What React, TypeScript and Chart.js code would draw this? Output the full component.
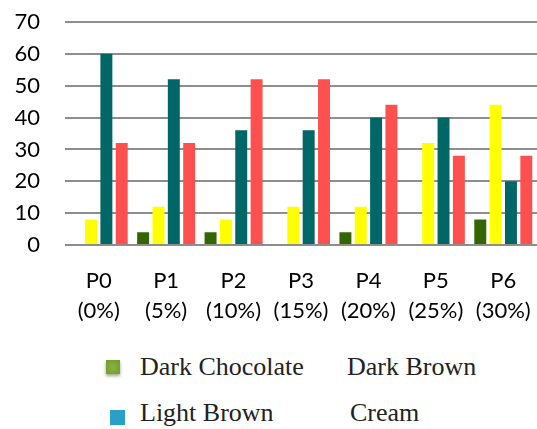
import React, { useEffect, useRef } from "react";
import { Chart, registerables } from "chart.js";

Chart.register(...registerables);

const categories: string[][] = [
  ["P0", "(0%)"],
  ["P1", "(5%)"],
  ["P2", "(10%)"],
  ["P3", "(15%)"],
  ["P4", "(20%)"],
  ["P5", "(25%)"],
  ["P6", "(30%)"],
];
const darkChocolate = [0, 4, 4, 0, 4, 0, 8];
const darkBrown = [8, 12, 8, 12, 12, 32, 44];
const lightBrown = [60, 52, 36, 36, 40, 40, 20];
const cream = [32, 32, 52, 52, 44, 28, 28];
const seriesNames = ["Dark Chocolate", "Dark Brown", "Light Brown", "Cream"];
const yMin = 0;
const yMax = 70;
const yStep = 10;

const tickFont = { family: "Lato, 'Open Sans', sans-serif", size: 22, lineHeight: 1.36 };

export default function App() {
  const canvasRef = useRef<HTMLCanvasElement | null>(null);

  useEffect(() => {
    if (!canvasRef.current) return;
    const chart = new Chart(canvasRef.current, {
      type: "bar",
      data: {
        labels: categories,
        datasets: [
          { label: seriesNames[0], data: darkChocolate, backgroundColor: "#336600" },
          { label: seriesNames[1], data: darkBrown, backgroundColor: "#ffff00" },
          { label: seriesNames[2], data: lightBrown, backgroundColor: "#006666" },
          { label: seriesNames[3], data: cream, backgroundColor: "#ff5050" },
        ],
      },
      options: {
        responsive: false,
        animation: false,
        events: [],
        datasets: {
          bar: { categoryPercentage: 0.91, barPercentage: 0.78 },
        },
        layout: { padding: { left: 15, right: 0, top: 22, bottom: 2 } },
        plugins: { legend: { display: false }, tooltip: { enabled: false } },
        scales: {
          x: {
            grid: { display: false, drawTicks: false },
            border: { display: false },
            ticks: { font: tickFont, color: "#000", padding: 21, maxRotation: 0, autoSkip: false },
            afterFit: (scale: any) => {
              scale.height = 83;
              scale.paddingLeft = 0;
              scale.paddingRight = 0;
            },
          },
          y: {
            min: yMin,
            max: yMax,
            grid: { color: "#8e8e8e", lineWidth: 2, drawTicks: false },
            border: { display: false },
            ticks: { stepSize: yStep, font: tickFont, color: "#000", padding: 25, autoSkip: false },
            afterFit: (scale: any) => {
              scale.width = 50;
              scale.paddingTop = 0;
              scale.paddingBottom = 0;
            },
          },
        },
      },
    });
    return () => chart.destroy();
  }, []);

  const legendText: React.CSSProperties = {
    position: "absolute",
    fontFamily: "'Liberation Serif', 'Times New Roman', serif",
    fontSize: 26,
    lineHeight: "26px",
    color: "#222",
    whiteSpace: "nowrap",
  };

  return (
    <div style={{ position: "fixed", left: 0, top: 0, width: 537, height: 429, background: "#fff", overflow: "hidden" }}>
      <canvas ref={canvasRef} width={537} height={330} style={{ position: "absolute", left: 0, top: 0 }} />
      <div
        style={{
          position: "absolute",
          left: 106,
          top: 360,
          width: 14,
          height: 14,
          background: "radial-gradient(circle, #8bb23f 0%, #6f9a2e 100%)",
          boxShadow: "0 2px 3px rgba(60,80,20,0.5)",
        }}
      />
      <div
        style={{
          position: "absolute",
          left: 110,
          top: 410,
          width: 15,
          height: 15,
          background: "#2a9fc8",
        }}
      />
      <span style={{ ...legendText, left: 140, top: 354 }}>{seriesNames[0]}</span>
      <span style={{ ...legendText, left: 347, top: 354 }}>{seriesNames[1]}</span>
      <span style={{ ...legendText, left: 140, top: 400 }}>{seriesNames[2]}</span>
      <span style={{ ...legendText, left: 350, top: 400 }}>{seriesNames[3]}</span>
    </div>
  );
}
